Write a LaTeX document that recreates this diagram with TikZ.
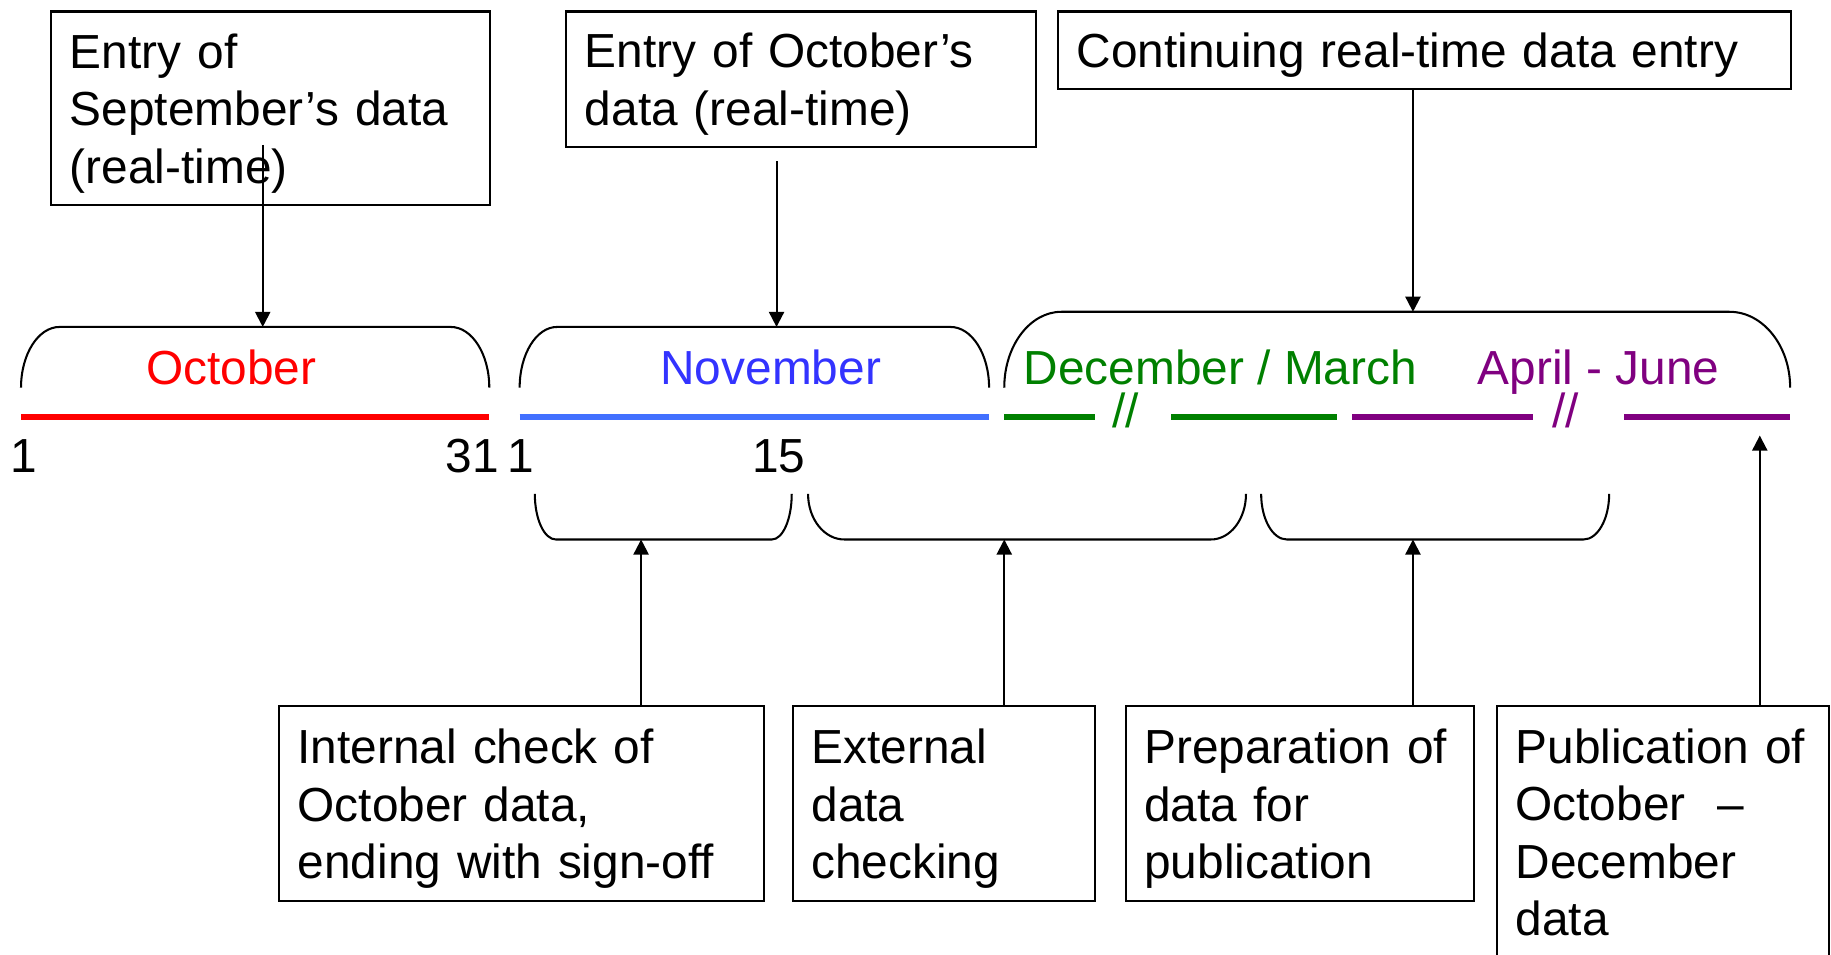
\documentclass[tikz,border=0pt]{standalone}
\usepackage{fontspec}
\setmainfont{Liberation Sans}
\usetikzlibrary{arrows.meta}
\definecolor{octred}{RGB}{255,0,0}
\definecolor{novblue}{RGB}{51,51,255}
\definecolor{novline}{RGB}{66,112,255}
\definecolor{decgreen}{RGB}{0,128,0}
\definecolor{aprpurple}{RGB}{128,0,128}
\begin{document}
\begin{tikzpicture}[>={Triangle[length=1.3mm,width=1.3mm]},line width=0.5pt,
		font=\fontsize{11.65}{14}\selectfont,
		stagebox/.style={draw,anchor=north west,align=left,inner xsep=1.6mm,inner ysep=0pt},
		lowtext/.style={execute at begin node={\rule{0pt}{3.8mm}}},
		month/.style={anchor=base,inner sep=0pt},
		daynum/.style={anchor=base,inner sep=0pt},
		timeline/.style={line width=1.3pt}]
		\useasboundingbox (0,0) rectangle (15.68,8.17);
		% boxes on top
		\node[stagebox,lowtext,minimum width=3.76cm,minimum height=1.66cm,text width=3.44cm] (sep) at (0.43,8.08) {Entry of\\September's data\\(real-time)};
		\node[stagebox,lowtext,minimum width=4.02cm,minimum height=1.16cm,text width=3.70cm] (oct) at (4.84,8.08) {Entry of October's\\data (real-time)};
		\node[stagebox,lowtext,minimum width=6.28cm,minimum height=0.66cm,text width=5.96cm] (cont) at (9.05,8.08) {Continuing real-time data entry};
		% brackets over the months
		\draw (0.18,4.85) arc[start angle=180,end angle=90,x radius=0.33,y radius=0.52] -- (3.86,5.37) arc[start angle=90,end angle=0,x radius=0.33,y radius=0.52];
		\draw (4.45,4.85) arc[start angle=180,end angle=90,x radius=0.32,y radius=0.52] -- (8.14,5.37) arc[start angle=90,end angle=0,x radius=0.33,y radius=0.52];
		\draw (8.60,4.85) arc[start angle=180,end angle=90,x radius=0.49,y radius=0.65] -- (14.81,5.50) arc[start angle=90,end angle=0,x radius=0.52,y radius=0.65];
		\coordinate (octTop) at (2.25,5.37);
		\coordinate (novTop) at (6.65,5.37);
		\coordinate (decTop) at (12.10,5.50);
		% months
		\path (1.98,4.88) node[month,text=octred] (octlab) {October};
		\path (6.60,4.88) node[month,text=novblue] (novlab) {November};
		\path (10.45,4.88) node[month,text=decgreen] (declab) {December / March};
		\path (13.69,4.88) node[month,text=aprpurple] (aprlab) {April - June};
		% time line
		\draw[timeline,octred] (0.18,4.60) -- (4.19,4.60);
		\draw[timeline,novline] (4.45,4.60) -- (8.47,4.60);
		\draw[timeline,decgreen] (8.60,4.60) -- (9.38,4.60);
		\draw[timeline,decgreen] (10.03,4.60) -- (11.45,4.60);
		\draw[timeline,aprpurple] (11.58,4.60) -- (13.13,4.60);
		\draw[timeline,aprpurple] (13.91,4.60) -- (15.33,4.60);
		\path (9.64,4.51) node[daynum,text=decgreen] (gapdec) {//};
		\path (13.41,4.51) node[daynum,text=aprpurple] (gapapr) {//};
		\path (0.205,4.12) node[daynum] (octfirst) {1};
		\path (4.045,4.12) node[daynum] (octlast) {31};
		\path (4.46,4.12) node[daynum] (novfirst) {1};
		\path (6.67,4.12) node[daynum] (novmid) {15};
		% brackets under the time line
		\draw (4.58,3.94) arc[start angle=180,end angle=270,x radius=0.18,y radius=0.39] -- (6.61,3.55) arc[start angle=270,end angle=360,x radius=0.17,y radius=0.39];
		\draw (6.92,3.94) arc[start angle=180,end angle=270,x radius=0.31,y radius=0.39] -- (10.37,3.55) arc[start angle=270,end angle=360,x radius=0.30,y radius=0.39];
		\draw (10.80,3.94) arc[start angle=180,end angle=270,x radius=0.22,y radius=0.39] -- (13.56,3.55) arc[start angle=270,end angle=360,x radius=0.22,y radius=0.39];
		\coordinate (chkA) at (5.49,3.55);
		\coordinate (chkB) at (8.60,3.55);
		\coordinate (chkC) at (12.10,3.55);
		\coordinate (pubTip) at (15.07,4.44);
		% boxes below
		\node[stagebox,lowtext,minimum width=4.15cm,minimum height=1.67cm,text width=3.83cm] (int) at (2.38,2.13) {Internal check of\\October data,\\ending with sign-off};
		\node[stagebox,lowtext,minimum width=2.59cm,minimum height=1.67cm,text width=2.27cm] (ext) at (6.78,2.13) {External\\data\\checking};
		\node[stagebox,lowtext,minimum width=2.98cm,minimum height=1.67cm,text width=2.66cm] (prep) at (9.63,2.13) {Preparation of\\data for\\publication};
		\node[stagebox,minimum width=2.84cm,minimum height=2.16cm,text width=2.52cm] (pub) at (12.81,2.13) {Publication of\\October~~--\\December\\data};
		% arrows
		\path (octTop) ++(0,1.56) coordinate (sepArr);
		\path (novTop) ++(0,1.42) coordinate (octArr);
		\draw[->] (sepArr) -- (octTop);
		\draw[->] (octArr) -- (novTop);
		\draw[->] (decTop |- cont.south) -- (decTop);
		\draw[->] (chkA |- int.north) -- (chkA);
		\draw[->] (chkB |- ext.north) -- (chkB);
		\draw[->] (chkC |- prep.north) -- (chkC);
		\draw[->] (pubTip |- pub.north) -- (pubTip);
\end{tikzpicture}
\end{document}
